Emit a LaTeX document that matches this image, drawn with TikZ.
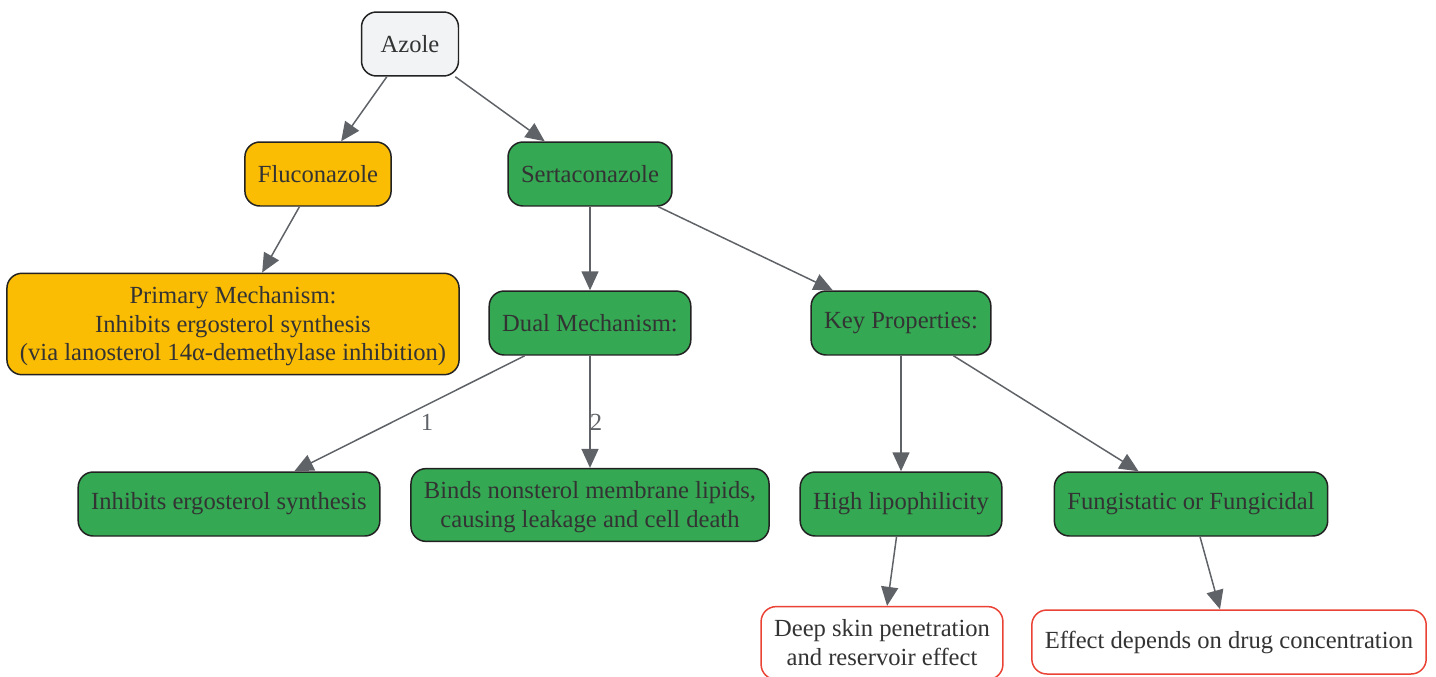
\documentclass[tikz,border=0pt]{standalone}
\usepackage{fontspec}
\setmainfont{Liberation Serif}
\usetikzlibrary{arrows.meta}

\definecolor{rootfill}{HTML}{F1F3F4}
\definecolor{fluyellow}{HTML}{FBBC04}
\definecolor{sertgreen}{HTML}{34A853}
\definecolor{notered}{HTML}{EA4335}
\definecolor{boxline}{HTML}{222222}
\definecolor{textdark}{HTML}{333333}
\definecolor{edgegray}{HTML}{5F6368}

% line strut, balanced around the cap height
\newcommand{\lstrut}{\rule[-3.5pt]{0pt}{16.3pt}}

\tikzset{
  box/.style={draw=boxline, line width=0.85pt, rounded corners=0.3cm, align=center,
    inner xsep=0.26cm, inner ysep=0.155cm, minimum height=1.28cm, text=textdark,
    font=\fontsize{14}{16.3}\selectfont},
  rootbox/.style={box, fill=rootfill, minimum width=1.94cm},
  flubox/.style={box, fill=fluyellow},
  sertbox/.style={box, fill=sertgreen},
  notebox/.style={box, draw=notered, fill=white},
  link/.style={draw=edgegray, line width=0.85pt, -{Triangle[length=0.38cm,width=0.34cm]}},
  elabel/.style={text=edgegray, font=\fontsize{14}{16}\selectfont}
}

\begin{document}
\begin{tikzpicture}[x=0.02cm, y=-0.02cm]
\useasboundingbox (0,0) rectangle (1436,676);

\node[rootbox] (azole) at (410,44) {Azole};
\node[flubox] (fluco) at (318,174) {Fluconazole};
\node[sertbox] (serta) at (590,174) {Sertaconazole};

\node[flubox] (primary) at (233,324) {\lstrut Primary Mechanism:\\\lstrut Inhibits ergosterol synthesis\\\lstrut(via lanosterol 14α-demethylase inhibition)};
\node[sertbox] (dual) at (590,323) {Dual Mechanism:};
\node[sertbox] (keyprop) at (901,323) {Key Properties:};

\node[sertbox] (inhib) at (229,504) {Inhibits ergosterol synthesis};
\node[sertbox] (binds) at (590,505) {\lstrut Binds nonsterol membrane lipids,\\\lstrut causing leakage and cell death};
\node[sertbox] (lipo) at (901,504) {High lipophilicity};
\node[sertbox] (fungi) at (1191,504) {Fungistatic or Fungicidal};

\node[notebox] (deep) at (882,643) {\lstrut Deep skin penetration\\\lstrut and reservoir effect};
\node[notebox] (effect) at (1229,642) {Effect depends on drug concentration};

\path[link] (azole) -- (fluco);
\path[link] (azole) -- (serta);
\path[link] (fluco) -- (primary);
\path[link] (serta) -- (dual);
\path[link] (serta) -- (keyprop);
\path[link] (dual) -- node[elabel, xshift=0.35cm, yshift=-0.17cm] {1} (inhib);
\path[link] (dual) -- node[elabel, xshift=0.12cm, yshift=-0.22cm] {2} (binds);
\path[link] (keyprop) -- (lipo);
\path[link] (keyprop) -- (fungi);
\path[link] (lipo) -- (deep);
\path[link] (fungi) -- (effect);
\end{tikzpicture}
\end{document}
